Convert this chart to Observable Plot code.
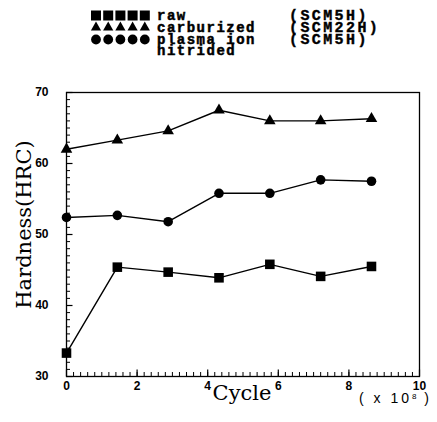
<!DOCTYPE html>
<html>
<head>
<meta charset="utf-8">
<script src="https://cdn.jsdelivr.net/npm/d3@7"></script>
<script src="https://cdn.jsdelivr.net/npm/@observablehq/plot@0.6"></script>
<style>
  html, body { margin: 0; padding: 0; background: #fff; }
  #wrap { position: relative; width: 437px; height: 422px; }
  #legend { position: absolute; left: 0; top: 0; }
</style>
</head>
<body>
<div id="wrap"></div>
<script>
// Data
const cycles = [0, 1.44, 2.88, 4.32, 5.76, 7.2, 8.64];          // x 10^8
const raw = [33.3, 45.4, 44.7, 43.9, 45.8, 44.1, 45.5];          // SCM5H
const carburized = [62.0, 63.3, 64.6, 67.5, 66.0, 66.0, 66.3];   // SCM22H
const plasma = [52.4, 52.7, 51.8, 55.8, 55.8, 57.7, 57.5];       // SCM5H
const seriesNames = ["raw", "carburized", "plasma ion nitrided"];
const legendLines = ["raw", "carburized", "plasma ion", "nitrided"];
const seriesSymbols = ["square", "triangle", "circle"];
const seriesGrades = ["(SCM5H)", "(SCM22H)", "(SCM5H)"];
const xTickLabels = [0, 2, 4, 6, 8, 10];
const yTickLabels = [30, 40, 50, 60, 70];
const xMinorTicks = d3.range(0, 50.5, 1).map(i => i / 5);
const yMinorTicks = d3.range(30, 70.5, 1);

const W = 437, H = 422, ML = 66, MR = 18, MT = 92, MB = 46;
const FW = W - ML - MR, FH = H - MT - MB;
const xDom = [0, 10], yDom = [30, 70];
// pixel lengths of inward ticks expressed in data units
const px2x = (xDom[1] - xDom[0]) / FW, px2y = (yDom[1] - yDom[0]) / FH;
const minorLen = 4, majorLen = 6.5;

const seriesValues = [raw, carburized, plasma];
const rows = [];
seriesNames.forEach((name, i) => {
  cycles.forEach((c, j) => rows.push({series: name, cycle: c, hardness: seriesValues[i][j]}));
});
const dotR = {square: 5.4, triangle: 4.3, circle: 4.8};

const marks = [
  Plot.frame({stroke: "#000", strokeWidth: 1.3}),
  // inward ticks
  Plot.ruleX(xMinorTicks, {x: d => d, y1: yDom[0], y2: yDom[0] + minorLen * px2y, stroke: "#000", strokeWidth: 1}),
  Plot.ruleX(xTickLabels, {x: d => d, y1: yDom[0], y2: yDom[0] + majorLen * px2y, stroke: "#000", strokeWidth: 1.2}),
  Plot.ruleY(yMinorTicks, {y: d => d, x1: xDom[0], x2: xDom[0] + minorLen * px2x, stroke: "#000", strokeWidth: 1}),
  Plot.ruleY(yTickLabels, {y: d => d, x1: xDom[0], x2: xDom[0] + majorLen * px2x, stroke: "#000", strokeWidth: 1.2}),
  Plot.axisX({ticks: xTickLabels, tickSize: 0, tickPadding: 5, tickFormat: d => d, label: null,
              fontFamily: "Liberation Sans, sans-serif", fontWeight: "bold", fontSize: 12}),
  Plot.axisY({ticks: yTickLabels, tickSize: 0, tickPadding: 18, tickFormat: d => d, label: null,
              fontFamily: "Liberation Sans, sans-serif", fontWeight: "bold", fontSize: 12}),
];
seriesNames.forEach((name, i) => {
  const d = rows.filter(r => r.series === name);
  marks.push(Plot.line(d, {x: "cycle", y: "hardness", stroke: "#000", strokeWidth: 1.4}));
  marks.push(Plot.dot(d, {x: "cycle", y: "hardness", symbol: () => seriesSymbols[i], r: dotR[seriesSymbols[i]], fill: "#000", stroke: "none"}));
});
marks.push(Plot.text(["Cycle"], {frameAnchor: "bottom", textAnchor: "middle", lineAnchor: "middle", dy: 17, dx: -1, text: d => d,
  fontFamily: "DejaVu Serif, serif", fontSize: 21, fill: "#000"}));
marks.push(Plot.text(["Hardness(HRC)"], {frameAnchor: "left", textAnchor: "middle", lineAnchor: "middle", dx: -42, dy: -10, rotate: -90, text: d => d,
  fontFamily: "DejaVu Serif, serif", fontSize: 21, fill: "#000"}));

const chart = Plot.plot({
  width: W, height: H,
  marginLeft: ML, marginRight: MR, marginTop: MT, marginBottom: MB,
  x: {domain: xDom, axis: null},
  y: {domain: yDom, axis: null},
  symbol: {type: "identity"},
  style: {background: "#fff", color: "#000", overflow: "visible"},
  marks
});
document.getElementById("wrap").appendChild(chart);

// exponent label under the x axis
const svg = d3.select(chart);
const exp = svg.append("text").attr("x", 432).attr("y", 403).attr("text-anchor", "end")
  .attr("font-family", "Liberation Sans, sans-serif").attr("font-size", 14).attr("fill", "#000")
  .attr("letter-spacing", 3);
exp.append("tspan").text("( x 10");
exp.append("tspan").text("8").attr("font-size", 8).attr("dy", -4).attr("letter-spacing", 1);
exp.append("tspan").text(" )").attr("dy", 4);

// legend (drawn on top)
const leg = d3.select("#wrap").append("svg").attr("id", "legend").attr("width", W).attr("height", 70);
const baselines = [20, 32, 44, 55];
seriesSymbols.forEach((s, i) => {
  const type = s === "square" ? d3.symbolSquare : s === "triangle" ? d3.symbolTriangle : d3.symbolCircle;
  const size = s === "square" ? 100 : s === "triangle" ? 45 : 75;
  for (let k = 0; k < 5; k++) {
    leg.append("path").attr("d", d3.symbol(type, size)())
      .attr("transform", `translate(${96 + k * 12.2},${baselines[i] - 4.5})`).attr("fill", "#000");
  }
  leg.append("text").attr("x", 289).attr("y", baselines[i]).text(seriesGrades[i])
    .attr("font-family", "Liberation Mono, monospace").attr("font-weight", "bold")
    .attr("font-size", 15).attr("letter-spacing", 2.4).attr("fill", "#000")
    .attr("stroke", "#000").attr("stroke-width", 0.4);
});
legendLines.forEach((t, i) => {
  leg.append("text").attr("x", 157).attr("y", baselines[i]).text(t)
    .attr("font-family", "Liberation Mono, monospace").attr("font-weight", "bold")
    .attr("font-size", 14).attr("letter-spacing", 1.5).attr("fill", "#000")
    .attr("stroke", "#000").attr("stroke-width", 0.5);
});
</script>
</body>
</html>
